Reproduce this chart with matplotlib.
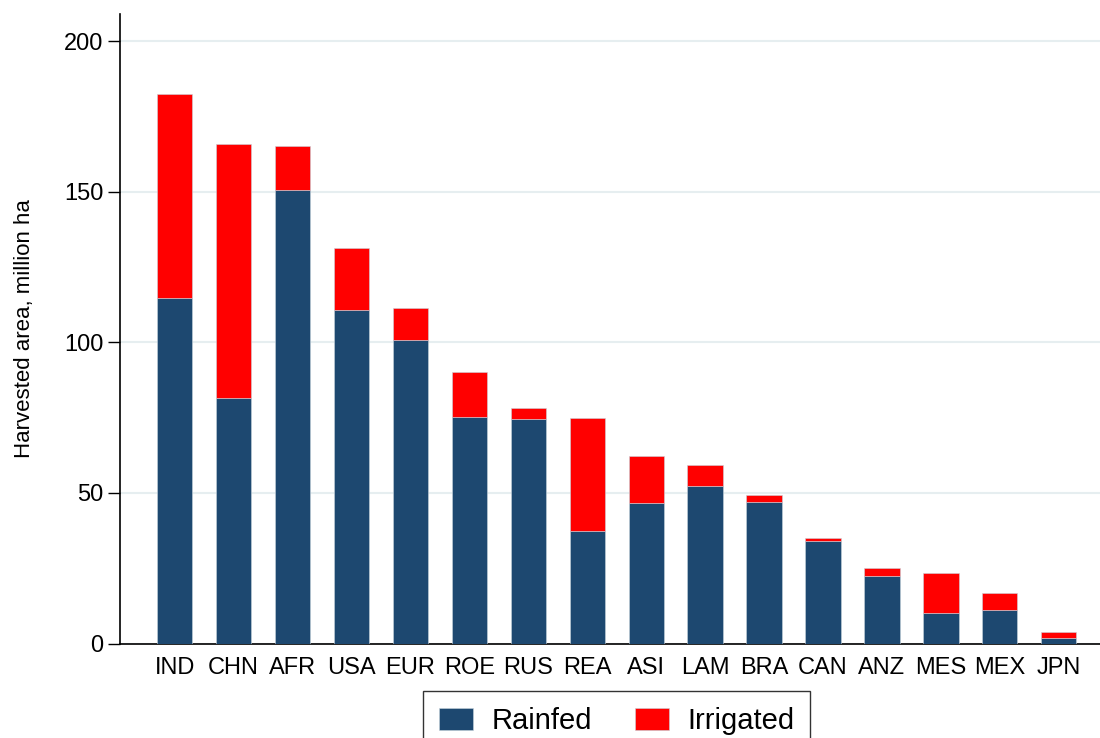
import numpy as np
import matplotlib.pyplot as plt

plt.rcParams['font.family'] = ['Liberation Sans', 'DejaVu Sans']

regions = ['IND', 'CHN', 'AFR', 'USA', 'EUR', 'ROE', 'RUS', 'REA',
           'ASI', 'LAM', 'BRA', 'CAN', 'ANZ', 'MES', 'MEX', 'JPN']
rainfed = [114.6, 81.5, 150.5, 110.6, 100.7, 75.1, 74.4, 37.2,
           46.6, 52.3, 46.9, 34.0, 22.4, 10.0, 11.1, 1.9]
total = [182.4, 166.0, 165.1, 131.3, 111.3, 90.1, 78.3, 74.8,
         62.2, 59.3, 49.3, 34.9, 25.0, 23.4, 16.8, 3.8]
irrigated = [t - r for t, r in zip(total, rainfed)]

fig = plt.figure(figsize=(11, 7.38), dpi=100)
ax = fig.add_axes([0.109, 0.128, 0.891, 0.853])

x = np.arange(len(regions))
ax.bar(x, rainfed, width=0.6, color='#1d4870', edgecolor='#c8d4dc', linewidth=0.4,
       label='Rainfed', zorder=3)
ax.bar(x, irrigated, bottom=rainfed, width=0.6, color='#ff0000', edgecolor='#c8d4dc',
       linewidth=0.4, label='Irrigated', zorder=3)

ax.set_xlim(-0.93, 15.7)
ax.set_ylim(0, 209)
ax.set_yticks([0, 50, 100, 150, 200])
ax.set_xticks(x)
ax.set_xticklabels(regions)
ax.tick_params(axis='x', length=0, labelsize=17, pad=10)
ax.tick_params(axis='y', length=9, labelsize=17, width=1, pad=3)
ax.yaxis.grid(True, color='#e6eef0', linewidth=1.5, zorder=0)
ax.set_ylabel('Harvested area, million ha', fontsize=16, labelpad=21)

for s in ['top', 'right']:
    ax.spines[s].set_visible(False)
ax.spines['left'].set_linewidth(1.2)
ax.spines['bottom'].set_linewidth(1.2)

# legend box runs off the bottom edge, as in the original
leg = fig.legend(loc='upper center', bbox_to_anchor=(0.5605, 0.064), ncol=2,
                 fontsize=21, frameon=True, fancybox=False, edgecolor='black',
                 handlelength=1.17, handleheight=0.8, handletextpad=0.62,
                 columnspacing=1.48, borderpad=0.55, borderaxespad=0)
leg.get_frame().set_linewidth(1.0)

fig.savefig('out.png', dpi=100)
